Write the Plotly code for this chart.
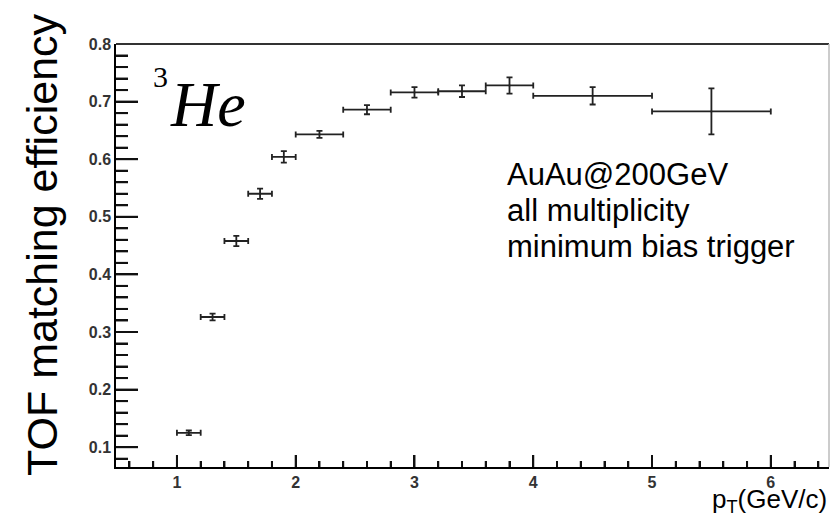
import plotly.graph_objects as go

# ---- data ----
pt_center = [1.1, 1.3, 1.5, 1.7, 1.9, 2.2, 2.6, 3.0, 3.4, 3.8, 4.5, 5.5]
pt_halfwidth = [0.1, 0.1, 0.1, 0.1, 0.1, 0.2, 0.2, 0.2, 0.2, 0.2, 0.5, 0.5]
efficiency = [0.125, 0.326, 0.458, 0.540, 0.604, 0.643, 0.686, 0.716, 0.718, 0.728, 0.710, 0.683]
eff_error = [0.004, 0.006, 0.009, 0.009, 0.010, 0.006, 0.008, 0.009, 0.010, 0.014, 0.015, 0.040]

x_ticks = [1, 2, 3, 4, 5, 6]
y_ticks = [0.1, 0.2, 0.3, 0.4, 0.5, 0.6, 0.7, 0.8]
info_lines = ["AuAu@200GeV", "all multiplicity", "minimum bias trigger"]

x_range = [0.487, 6.49]
y_range = [0.0656, 0.8]

W, H = 830, 523
L, R, T, B = 116, 1, 44, 56
PW, PH = W - L - R, H - T - B


def px(xp):
    return (xp - L) / PW


def py(yp):
    return (H - B - yp) / PH


fig = go.Figure()
fig.add_trace(go.Scatter(
    x=pt_center, y=efficiency, mode="markers",
    marker=dict(size=2, color="#222"),
    error_x=dict(type="data", array=pt_halfwidth, visible=True,
                 color="#222", thickness=1.8, width=3),
    error_y=dict(type="data", array=eff_error, visible=True,
                 color="#222", thickness=1.8, width=3),
    showlegend=False, hoverinfo="skip",
))

tickfont = dict(family="Liberation Sans, Arial", size=16, color="#333", weight="bold")
fig.update_layout(
    width=W, height=H,
    margin=dict(l=L, r=R, t=T, b=B),
    paper_bgcolor="white", plot_bgcolor="white",
    xaxis=dict(range=x_range, tickvals=x_ticks,
               ticks="inside", ticklen=12, tickwidth=2, tickcolor="#111",
               minor=dict(ticks="inside", ticklen=6, dtick=0.2, tick0=0,
                          tickcolor="#111", tickwidth=2),
               showline=True, linecolor="black", linewidth=1.5,
               gridcolor="white", zeroline=False, tickfont=tickfont),
    yaxis=dict(range=y_range, tickvals=y_ticks, ticktext=[f"{v:.1f}" for v in y_ticks],
               ticks="inside", ticklen=22, tickwidth=2, tickcolor="#111",
               minor=dict(ticks="inside", ticklen=12, dtick=0.02, tick0=0,
                          tickcolor="#111", tickwidth=2),
               showline=True, linecolor="black", linewidth=1.5,
               gridcolor="white", zeroline=False, tickfont=tickfont),
)

# ROOT-style inner tick marks, also drawn as shapes derived from the tick lists
tick_line = dict(color="#111", width=2)
x_minor = [round(0.6 + 0.2 * i, 1) for i in range(30)]
x_minor = [v for v in x_minor if x_range[0] < v < x_range[1] and abs(v - round(v)) > 1e-6]
y_minor = [round(0.08 + 0.02 * i, 2) for i in range(36)]
y_minor = [v for v in y_minor if y_range[0] < v < y_range[1] and abs(v * 10 - round(v * 10)) > 1e-6]

shapes = []
for v in x_ticks:
    shapes.append(dict(type="line", xref="x", yref="paper", x0=v, x1=v, y0=0, y1=12 / PH,
                       line=tick_line, layer="above"))
for v in x_minor:
    shapes.append(dict(type="line", xref="x", yref="paper", x0=v, x1=v, y0=0, y1=6 / PH,
                       line=tick_line, layer="above"))
for v in y_ticks:
    shapes.append(dict(type="line", xref="paper", yref="y", x0=0, x1=22 / PW, y0=v, y1=v,
                       line=tick_line, layer="above"))
for v in y_minor:
    shapes.append(dict(type="line", xref="paper", yref="y", x0=0, x1=12 / PW, y0=v, y1=v,
                       line=tick_line, layer="above"))
shapes.append(dict(type="line", xref="paper", yref="paper", x0=0, x1=1, y0=1, y1=1,
                   line=dict(color="#333", width=2)))
shapes.append(dict(type="line", xref="paper", yref="paper", x0=1, x1=1, y0=0, y1=1,
                   line=dict(color="#bbb", width=1.5)))
fig.update_layout(shapes=shapes)

ann = []
ann.append(dict(text="TOF matching efficiency", textangle=-90, xref="paper", yref="paper",
                x=px(42), y=py(245), xanchor="center", yanchor="middle", showarrow=False,
                font=dict(family="Liberation Sans, Arial", size=43, color="black")))
ann.append(dict(text="p<sub>T</sub>(GeV/c)", xref="paper", yref="paper",
                x=px(829), y=py(500), xanchor="right", yanchor="middle", showarrow=False,
                font=dict(family="Liberation Sans, Arial", size=26, color="black")))
ann.append(dict(text="3", xref="paper", yref="paper", x=px(151), y=py(76),
                xanchor="left", yanchor="middle", showarrow=False,
                font=dict(family="Liberation Serif, Times New Roman", size=30, color="black")))
ann.append(dict(text="<i>He</i>", xref="paper", yref="paper", x=px(168), y=py(104),
                xanchor="left", yanchor="middle", showarrow=False,
                font=dict(family="Liberation Serif, Times New Roman", size=64, color="black")))
for i, line in enumerate(info_lines):
    ann.append(dict(text=line, xref="paper", yref="paper", x=px(505), y=py(174 + 36 * i),
                    xanchor="left", yanchor="middle", showarrow=False,
                    font=dict(family="Liberation Sans, Arial", size=31, color="black")))
fig.update_layout(annotations=ann)

fig.write_html("out.html")
